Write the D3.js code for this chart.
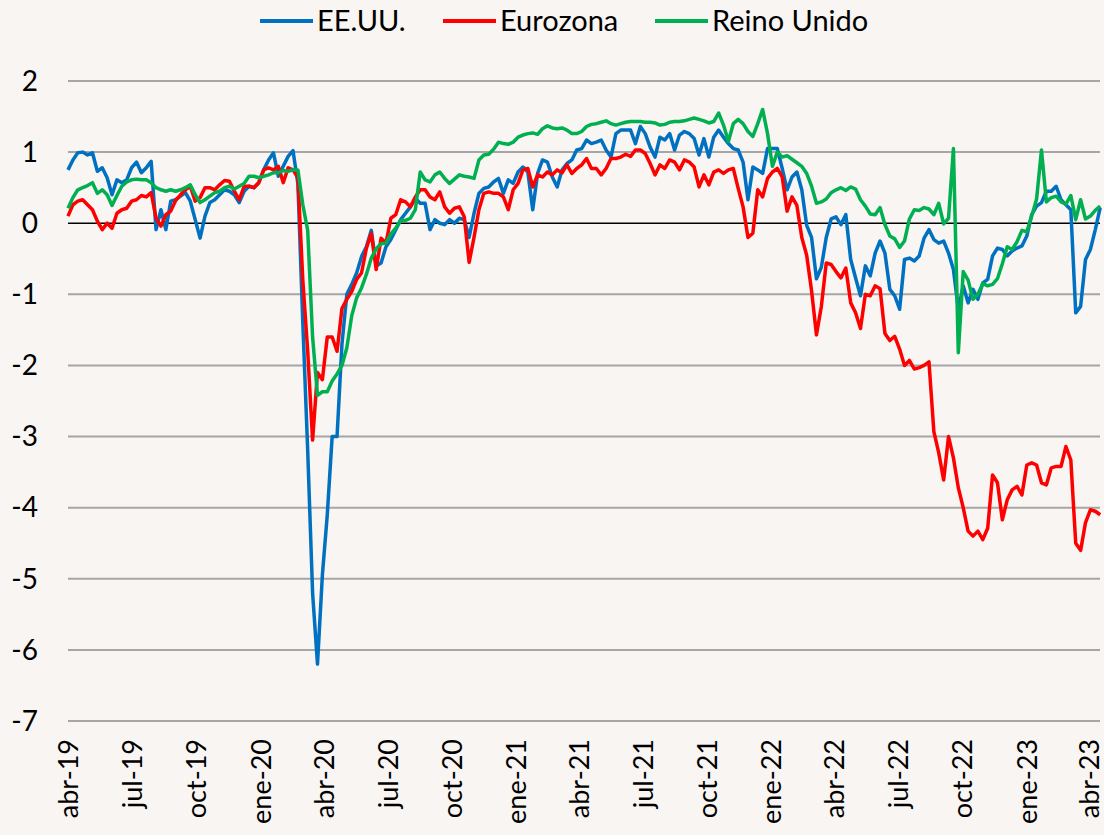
<!DOCTYPE html>
<html>
<head>
<meta charset="utf-8">
<script src="https://cdn.jsdelivr.net/npm/d3@7"></script>
<style>
  body { margin: 0; background: #f8f5f2; }
  svg { display: block; font-family: Lato, "Open Sans", sans-serif; }
</style>
</head>
<body>
<div id="chart"></div>
<script>
// weekly readings, first one on 1 Apr 2019
const startDate = new Date(2019, 3, 1);

const eeuu = [
  0.75, 0.89, 0.99, 1.00, 0.96, 0.99, 0.73, 0.78, 0.64, 0.40,
  0.61, 0.57, 0.61, 0.78, 0.86, 0.71, 0.78, 0.87, -0.09, 0.19,
  -0.09, 0.31, 0.33, 0.38, 0.43, 0.31, 0.05, -0.21, 0.10, 0.29,
  0.33, 0.40, 0.47, 0.45, 0.40, 0.29, 0.45, 0.52, 0.50, 0.57,
  0.75, 0.89, 0.99, 0.66, 0.80, 0.94, 1.02, 0.55, -1.40, -3.20,
  -5.20, -6.20, -4.95, -4.10, -3.00, -3.00, -1.70, -1.00, -0.86, -0.70,
  -0.47, -0.33, -0.10, -0.60, -0.56, -0.33, -0.23, -0.09, 0.05, 0.14,
  0.23, 0.35, 0.28, 0.28, -0.09, 0.05, 0.00, -0.02, 0.05, 0.00,
  0.07, 0.05, -0.20, 0.14, 0.42, 0.49, 0.51, 0.58, 0.63, 0.42,
  0.61, 0.56, 0.72, 0.79, 0.72, 0.19, 0.70, 0.89, 0.86, 0.65,
  0.51, 0.75, 0.84, 0.89, 1.03, 1.05, 1.17, 1.12, 1.14, 1.17,
  1.03, 0.93, 1.26, 1.31, 1.31, 1.31, 1.12, 1.36, 1.26, 1.07,
  0.93, 1.21, 1.17, 1.26, 1.03, 1.24, 1.29, 1.26, 1.19, 0.96,
  1.19, 0.93, 1.21, 1.31, 1.21, 1.12, 1.05, 1.03, 0.86, 0.33,
  0.79, 0.75, 0.70, 1.05, 1.05, 1.05, 0.77, 0.47, 0.65, 0.72,
  0.47, -0.03, -0.20, -0.78, -0.62, -0.20, 0.06, 0.09, -0.02, 0.12,
  -0.51, -0.77, -1.02, -0.60, -0.74, -0.42, -0.25, -0.42, -0.93, -1.02,
  -1.21, -0.51, -0.49, -0.53, -0.46, -0.21, -0.09, -0.23, -0.28, -0.25,
  -0.42, -0.65, -1.21, -0.88, -1.12, -0.93, -1.07, -0.84, -0.79, -0.46,
  -0.35, -0.37, -0.46, -0.39, -0.35, -0.32, -0.18, 0.12, 0.24, 0.29,
  0.45, 0.45, 0.52, 0.33, 0.26, 0.19, -1.26, -1.17, -0.51, -0.37,
  -0.09, 0.22
];

const eurozona = [
  0.10, 0.26, 0.31, 0.33, 0.26, 0.19, 0.03, -0.09, 0.00, -0.07,
  0.14, 0.19, 0.21, 0.31, 0.33, 0.39, 0.37, 0.43, 0.07, -0.04,
  0.12, 0.17, 0.32, 0.40, 0.47, 0.52, 0.31, 0.36, 0.50, 0.50,
  0.47, 0.54, 0.60, 0.59, 0.45, 0.33, 0.52, 0.52, 0.50, 0.57,
  0.75, 0.78, 0.75, 0.80, 0.57, 0.78, 0.75, 0.64, -0.80, -1.80,
  -3.05, -2.10, -2.20, -1.60, -1.60, -1.80, -1.20, -1.07, -0.96, -0.79,
  -0.70, -0.35, -0.14, -0.65, -0.21, -0.28, 0.07, 0.12, 0.33, 0.30,
  0.23, 0.37, 0.47, 0.47, 0.37, 0.33, 0.44, 0.23, 0.14, 0.21,
  0.23, 0.09, -0.55, -0.20, 0.19, 0.42, 0.44, 0.42, 0.42, 0.37,
  0.19, 0.47, 0.56, 0.75, 0.77, 0.51, 0.68, 0.65, 0.72, 0.68,
  0.75, 0.71, 0.82, 0.70, 0.77, 0.82, 0.91, 0.77, 0.77, 0.68,
  0.77, 0.91, 0.91, 0.93, 0.97, 0.94, 1.03, 1.03, 0.98, 0.84,
  0.68, 0.82, 0.77, 0.89, 0.86, 0.75, 0.89, 0.86, 0.79, 0.51,
  0.68, 0.54, 0.72, 0.75, 0.70, 0.75, 0.77, 0.49, 0.23, -0.20,
  -0.14, 0.47, 0.37, 0.63, 0.72, 0.77, 0.65, 0.17, 0.37, 0.25,
  -0.20, -0.45, -0.95, -1.57, -1.17, -0.56, -0.58, -0.68, -0.77, -0.63,
  -1.12, -1.26, -1.48, -1.00, -1.02, -0.88, -0.92, -1.55, -1.65, -1.59,
  -1.77, -2.00, -1.93, -2.05, -2.03, -2.00, -1.95, -2.93, -3.23, -3.61,
  -3.00, -3.30, -3.72, -4.00, -4.33, -4.40, -4.33, -4.45, -4.29, -3.54,
  -3.65, -4.17, -3.89, -3.75, -3.70, -3.82, -3.40, -3.37, -3.40, -3.65,
  -3.68, -3.44, -3.42, -3.42, -3.14, -3.33, -4.50, -4.60, -4.21, -4.03,
  -4.05, -4.10
];

const reinoUnido = [
  0.21, 0.36, 0.47, 0.50, 0.53, 0.57, 0.42, 0.47, 0.40, 0.25,
  0.39, 0.52, 0.58, 0.61, 0.62, 0.61, 0.61, 0.57, 0.50, 0.47,
  0.45, 0.47, 0.45, 0.47, 0.50, 0.54, 0.40, 0.29, 0.33, 0.38,
  0.43, 0.45, 0.50, 0.52, 0.48, 0.52, 0.56, 0.66, 0.66, 0.64,
  0.66, 0.68, 0.71, 0.71, 0.74, 0.73, 0.75, 0.75, 0.26, -0.10,
  -1.60, -2.42, -2.37, -2.37, -2.22, -2.12, -2.00, -1.75, -1.30, -1.05,
  -0.91, -0.72, -0.49, -0.36, -0.29, -0.28, -0.15, -0.07, 0.04, 0.04,
  0.07, 0.19, 0.72, 0.61, 0.58, 0.68, 0.72, 0.63, 0.56, 0.62,
  0.68, 0.66, 0.65, 0.63, 0.89, 0.96, 0.97, 1.04, 1.14, 1.12,
  1.11, 1.14, 1.21, 1.24, 1.26, 1.27, 1.25, 1.33, 1.37, 1.34,
  1.33, 1.34, 1.31, 1.26, 1.26, 1.29, 1.36, 1.39, 1.40, 1.42,
  1.44, 1.40, 1.38, 1.40, 1.42, 1.43, 1.43, 1.43, 1.42, 1.42,
  1.41, 1.38, 1.39, 1.42, 1.43, 1.43, 1.44, 1.46, 1.48, 1.46,
  1.44, 1.41, 1.43, 1.55, 1.38, 1.15, 1.40, 1.46, 1.40, 1.29,
  1.22, 1.40, 1.60, 1.26, 0.80, 1.00, 0.93, 0.95, 0.90, 0.85,
  0.80, 0.70, 0.52, 0.28, 0.30, 0.34, 0.43, 0.47, 0.50, 0.46,
  0.51, 0.48, 0.33, 0.24, 0.13, 0.12, 0.22, -0.02, -0.18, -0.22,
  -0.34, -0.25, 0.06, 0.19, 0.18, 0.22, 0.20, 0.12, 0.28, -0.01,
  0.07, 1.05, -1.82, -0.68, -0.80, -1.07, -1.00, -0.85, -0.88, -0.86,
  -0.78, -0.57, -0.33, -0.37, -0.26, -0.10, -0.12, 0.10, 0.34, 1.03,
  0.30, 0.36, 0.38, 0.30, 0.27, 0.39, 0.05, 0.33, 0.06, 0.10,
  0.18, 0.24
];

const yTicks = [2, 1, 0, -1, -2, -3, -4, -5, -6, -7];
const xTickLabels = ["abr-19", "jul-19", "oct-19", "ene-20", "abr-20", "jul-20", "oct-20", "ene-21",
  "abr-21", "jul-21", "oct-21", "ene-22", "abr-22", "jul-22", "oct-22", "ene-23", "abr-23"];

const series = [
  { name: "EE.UU.", values: eeuu, color: "#0070c0" },
  { name: "Eurozona", values: eurozona, color: "#ff0000" },
  { name: "Reino Unido", values: reinoUnido, color: "#00b050" }
];

const width = 1104, height = 835;
const margin = { top: 81, right: 4, bottom: 114, left: 68 };

const svg = d3.select("#chart").append("svg")
  .attr("width", width)
  .attr("height", height);

svg.append("rect").attr("width", width).attr("height", height).attr("fill", "#f8f5f2");

const x = d3.scaleTime()
  .domain([startDate, new Date(2023, 3, 1)])
  .range([margin.left, 1089]);

const y = d3.scaleLinear()
  .domain([-7, 2])
  .range([height - margin.bottom, margin.top]);

// gridlines
svg.append("g")
  .selectAll("line")
  .data(yTicks.filter(d => d !== 0))
  .join("line")
  .attr("x1", margin.left).attr("x2", width - margin.right)
  .attr("y1", d => y(d)).attr("y2", d => y(d))
  .attr("stroke", "#a6a6a6")
  .attr("stroke-width", 2);

svg.append("line")
  .attr("x1", margin.left).attr("x2", width - margin.right)
  .attr("y1", y(0)).attr("y2", y(0))
  .attr("stroke", "#000")
  .attr("stroke-width", 1.5);

// y labels
svg.append("g")
  .selectAll("text")
  .data(yTicks)
  .join("text")
  .attr("x", 38)
  .attr("y", d => y(d))
  .attr("dy", "0.35em")
  .attr("text-anchor", "end")
  .attr("font-size", 28)
  .attr("fill", "#000")
  .text(d => d);

// x labels
svg.append("g")
  .selectAll("text")
  .data(xTickLabels)
  .join("text")
  .attr("transform", (d, i) => `translate(${x(d3.timeMonth.offset(startDate, 3 * i)) + 1},739) rotate(-90)`)
  .attr("dy", "0.35em")
  .attr("text-anchor", "end")
  .attr("font-size", 27)
  .attr("fill", "#000")
  .text(d => d);

const line = d3.line()
  .x((d, i) => x(d3.timeDay.offset(startDate, 7 * i)))
  .y(d => y(d));

svg.append("g")
  .selectAll("path")
  .data(series)
  .join("path")
  .attr("fill", "none")
  .attr("stroke", d => d.color)
  .attr("stroke-width", 3.5)
  .attr("stroke-linejoin", "round")
  .attr("d", d => line(d.values));

// legend
const legendPos = [260, 443, 655];
const legend = svg.append("g")
  .selectAll("g")
  .data(series)
  .join("g")
  .attr("transform", (d, i) => `translate(${legendPos[i]},21)`);

legend.append("line")
  .attr("x1", 0).attr("x2", 53)
  .attr("stroke", d => d.color)
  .attr("stroke-width", 4);

legend.append("text")
  .attr("x", 57)
  .attr("dy", "0.35em")
  .attr("font-size", 29)
  .attr("fill", "#000")
  .text(d => d.name);
</script>
</body>
</html>
